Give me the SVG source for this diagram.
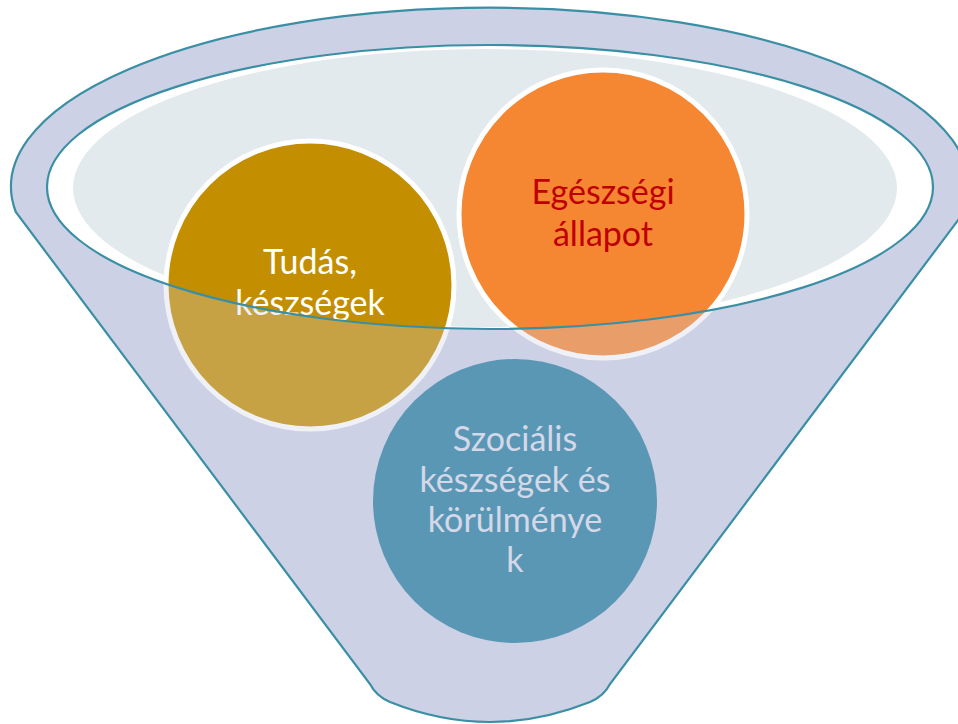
<svg xmlns="http://www.w3.org/2000/svg" width="958" height="724" viewBox="0 0 958 724">
<style>
.body{fill:#cdd2e6}
.rim{fill:none;stroke:#3a8fa5;stroke-width:2.2}
.circ{stroke:#ffffff;stroke-width:5}
.lbl{font-family:Lato,"Open Sans","Liberation Sans",sans-serif;font-size:34px;text-anchor:middle}
</style>
<rect width="958" height="724" fill="#ffffff"/>
<g id="funnel">
<path class="body" d="M 15.8,212 A 479 179 0 1 1 964.2,212 L 610,684 Q 604,696 590,702 Q 540,722 490,722 Q 440,722 390,702 Q 376,696 370,684 Z"/>
<ellipse cx="490" cy="187" rx="443" ry="142" fill="#ffffff"/>
<ellipse cx="485" cy="188" rx="412" ry="139" fill="#e3eaee"/>
</g>
<g id="node-tudas">
<circle class="circ" cx="310" cy="285" r="144" fill="#c38f00"/>
<text class="lbl" x="310" y="274" fill="#ffffff">Tudás,</text>
<text class="lbl" x="310" y="315" fill="#ffffff">készségek</text>
</g>
<g id="node-egeszseg">
<circle class="circ" cx="603" cy="214" r="144" fill="#f58733"/>
<text class="lbl" x="603" y="204" fill="#c00000">Egészségi</text>
<text class="lbl" x="603" y="246" fill="#c00000">állapot</text>
</g>
<g id="node-szocialis">
<circle cx="515" cy="501" r="142" fill="#297fa0"/>
<text class="lbl" x="515" y="451" fill="#d7dbea">Szociális</text>
<text class="lbl" x="515" y="492" fill="#d7dbea">készségek és</text>
<text class="lbl" x="515" y="532" fill="#d7dbea">körülménye</text>
<text class="lbl" x="515" y="572" fill="#d7dbea">k</text>
</g>
<g id="funnel-front">
<path class="body" fill-rule="evenodd" opacity="0.3" d="M 15.8,212 A 479 179 0 1 1 964.2,212 L 610,684 Q 604,696 590,702 Q 540,722 490,722 Q 440,722 390,702 Q 376,696 370,684 Z M 47,187 A 443 142 0 1 0 933,187 A 443 142 0 1 0 47,187 Z"/>
<path class="rim" d="M 15.8,212 A 479 179 0 1 1 964.2,212 L 610,684 Q 604,696 590,702 Q 540,722 490,722 Q 440,722 390,702 Q 376,696 370,684 Z"/>
<ellipse class="rim" cx="490" cy="187" rx="443" ry="142"/>
</g>
<g id="connectors"/>
</svg>
